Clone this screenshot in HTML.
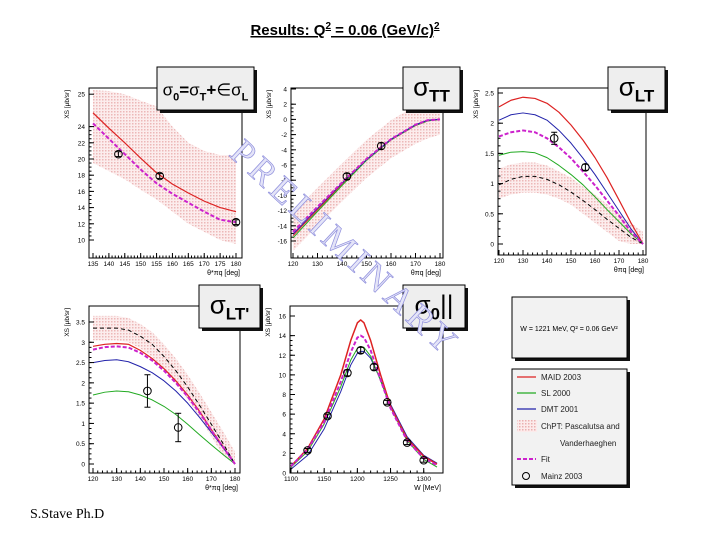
<!DOCTYPE html>
<html><head><meta charset="utf-8"><style>
body{margin:0;background:#fff;width:720px;height:540px;overflow:hidden;position:relative;font-family:"Liberation Sans",Arial,sans-serif}
svg{position:absolute;left:0;top:0}
</style></head><body>
<svg id="s" width="720" height="540" viewBox="0 0 720 540">
<defs>
<pattern id="dots" width="3" height="3" patternUnits="userSpaceOnUse"><rect width="3" height="3" fill="#fcebeb"/><rect x="0" y="0" width="1.5" height="1.5" fill="#eab0b0"/></pattern>
</defs>
<text x="345" y="35" text-anchor="middle" font-size="15" font-weight="bold" text-decoration="underline" fill="#000">Results:  Q<tspan font-size="10" dy="-6">2</tspan><tspan dy="6"> = 0.06 (GeV/c)</tspan><tspan font-size="10" dy="-6">2</tspan></text>
<text x="30" y="518" font-family="Liberation Serif,serif" font-size="14" fill="#000">S.Stave  Ph.D</text>
<g id="panels"></g>
<g>
<rect x="515" y="300" width="115" height="61" fill="#111"/>
<rect x="512" y="297" width="115" height="61" fill="#f2f2f2" stroke="#000"/>
<text x="569" y="331" text-anchor="middle" font-size="7" fill="#000">W = 1221 MeV, Q² = 0.06 GeV²</text>
</g>
<g>
<rect x="515" y="372" width="115" height="116" fill="#111"/>
<rect x="512" y="369" width="115" height="116" fill="#f2f2f2" stroke="#000"/>
<line x1="517" y1="377" x2="536" y2="377" stroke="#d22" stroke-width="1.2"/><text x="541" y="380" font-size="8" fill="#222">MAID 2003</text>
<line x1="517" y1="393" x2="536" y2="393" stroke="#2a2" stroke-width="1.2"/><text x="541" y="396" font-size="8" fill="#222">SL 2000</text>
<line x1="517" y1="409" x2="536" y2="409" stroke="#22a" stroke-width="1.2"/><text x="541" y="412" font-size="8" fill="#222">DMT 2001</text>
<rect x="517" y="420" width="20" height="12" fill="url(#dots)"/><text x="541" y="429" font-size="8" fill="#222">ChPT: Pascalutsa and</text>
<text x="560" y="446" font-size="8" fill="#222">Vanderhaeghen</text>
<line x1="517" y1="459" x2="536" y2="459" stroke="#c2c" stroke-width="2" stroke-dasharray="4,2"/><text x="541" y="462" font-size="8" fill="#222">Fit</text>
<circle cx="526" cy="476" r="3.5" fill="none" stroke="#000"/><text x="541" y="479" font-size="8" fill="#222">Mainz 2003</text>
</g>
<text x="0" y="0" transform="translate(228,155) rotate(43)" font-family="Liberation Serif,serif" font-size="36" fill="#e4e4f8" stroke="#8f8fdc" stroke-width="0.7" letter-spacing="5">PRELIMINARY</text>
</svg>
<script>
// ---- Panel 1: sigma0 vs theta ----
const p1X = [135,140,145,150,155,160,165,170,175,180];
const p1Maid = [25.7,23.8,22,20.1,18.3,16.9,15.8,14.8,14,13.5];
const p1Fit = [24.4,22.5,20.6,18.7,17,15.7,14.6,13.5,12.5,12.2];
const p1BandHi = [28.5,28.4,28,27.2,26.5,24,22,21,20.5,20.5];
const p1BandLo = [19.5,18.5,17.5,16.2,15,13.5,12,11,10,9.5];
const p1DataX = [143,156,180];
const p1DataY = [20.6,17.9,12.2];
const p1DataE = [0.3,0.3,0.3];
const p1YTicks = [10,12,14,16,18,20,22,24,28];
const p1YLabels = ["10","12","14","16","18","20","22","24","25"];
const p1XTicks = [135,140,145,150,155,160,165,170,175,180];
// ---- Panel 2: sigmaTT ----
const p2X = [120,130,140,150,160,170,175,180];
const p2Fit = [-14.8,-11.5,-8.3,-5.2,-2.6,-0.7,-0.1,0];
const p2Maid = [-15.3,-11.9,-8.5,-5.3,-2.7,-0.8,-0.2,0];
const p2SL = [-15.6,-12.1,-8.7,-5.4,-2.7,-0.8,-0.2,0];
const p2DMT = [-15.1,-11.7,-8.4,-5.3,-2.6,-0.7,-0.1,0];
const p2BandHi = [-12.3,-9,-5.8,-2.7,-0.1,1.8,2,2];
const p2BandLo = [-17.3,-14,-10.8,-7.7,-5.1,-3.2,-2.5,-2];
const p2DataX = [142,156];
const p2DataY = [-7.5,-3.5];
const p2DataE = [0.4,0.4];
const p2YTicks = [-16,-14,-12,-10,-8,-6,-4,-2,0,2,4];
const p2XTicks = [120,130,140,150,160,170,180];
// ---- Panel 3: sigmaLT ----
const p3X = [120,125,130,135,140,145,150,155,160,165,170,175,180];
const p3Maid = [2.27,2.38,2.43,2.41,2.33,2.18,1.97,1.72,1.43,1.1,0.73,0.35,0];
const p3DMT = [2.05,2.14,2.17,2.14,2.05,1.88,1.67,1.42,1.15,0.85,0.55,0.25,0];
const p3Fit = [1.78,1.85,1.88,1.85,1.75,1.6,1.42,1.2,0.97,0.72,0.47,0.2,0];
const p3SL = [1.47,1.52,1.53,1.51,1.43,1.3,1.15,0.98,0.78,0.57,0.37,0.17,0];
const p3ChPT = [0.98,1.07,1.12,1.12,1.07,0.98,0.86,0.72,0.57,0.41,0.26,0.11,0];
const p3BandHi = [1.25,1.32,1.35,1.35,1.3,1.2,1.1,0.95,0.82,0.66,0.5,0.35,0.2];
const p3BandLo = [0.75,0.82,0.85,0.85,0.82,0.75,0.65,0.5,0.35,0.2,0.05,0,0];
const p3DataX = [143,156];
const p3DataY = [1.75,1.27];
const p3DataE = [0.1,0.05];
const p3YTicks = [0,0.5,1,1.5,2,2.5];
const p3XTicks = [120,130,140,150,160,170,180];
// ---- Panel 4: sigmaLT' ----
const p4X = [120,125,130,135,140,145,150,155,160,165,170,175,180];
const p4Maid = [2.9,2.95,2.97,2.95,2.8,2.6,2.35,2.05,1.7,1.3,0.85,0.42,0];
const p4Fit = [2.82,2.88,2.9,2.87,2.74,2.55,2.3,2,1.66,1.27,0.83,0.41,0];
const p4DMT = [2.5,2.55,2.57,2.52,2.4,2.25,2.05,1.8,1.5,1.15,0.78,0.4,0];
const p4SL = [1.7,1.77,1.8,1.78,1.7,1.58,1.42,1.22,0.98,0.72,0.47,0.23,0];
const p4ChPT = [3.35,3.35,3.35,3.3,3.15,2.95,2.65,2.3,1.9,1.45,0.98,0.5,0];
const p4BandHi = [3.65,3.65,3.65,3.6,3.45,3.25,2.95,2.6,2.2,1.75,1.28,0.8,0.3];
const p4BandLo = [3.05,3.05,3.05,3,2.85,2.65,2.35,2,1.6,1.15,0.68,0.2,0];
const p4DataX = [143,156];
const p4DataY = [1.8,0.9];
const p4DataE = [0.4,0.35];
const p4YTicks = [0,0.5,1,1.5,2,2.5,3,3.5];
const p4XTicks = [120,130,140,150,160,170,180];
// ---- Panel 5: sigma0 vs W ----
const p5X = [1100,1125,1150,1175,1190,1200,1205,1210,1220,1235,1250,1275,1300,1320];
const p5Maid = [0.7,2.5,5.5,10,13.5,15.3,15.6,15.3,13.5,10,6.8,3.5,1.7,0.9];
const p5Fit = [0.7,2.4,5.2,9.3,12.3,13.8,14,13.8,12.5,9.5,6.6,3.3,1.5,0.8];
const p5SL = [0.6,2.2,5,8.8,11.5,12.7,12.9,12.8,11.9,9.4,6.7,3.3,1.4,0.6];
const p5DMT = [0.4,1.8,4.5,8.3,11,12.2,12.4,12.4,11.7,9.5,7,3.7,1.8,1];
const p5DataX = [1125,1155,1185,1205,1225,1245,1275,1300];
const p5DataY = [2.3,5.8,10.2,12.5,10.8,7.2,3.1,1.3];
const p5DataE = [0.2,0.2,0.3,0.3,0.3,0.2,0.2,0.2];
const p5YTicks = [0,2,4,6,8,10,12,14,16];
const p5XTicks = [1100,1150,1200,1250,1300];

const NS = "http://www.w3.org/2000/svg";
const root = document.getElementById('panels');
function mk(tag, attrs, parent){const e=document.createElementNS(NS,tag);for(const k in attrs)e.setAttribute(k,attrs[k]);(parent||root).appendChild(e);return e;}

function panel(c){
  const g = mk('g',{});
  
  
  const sx = v => c.px0 + (v - c.x0) / (c.x1 - c.x0) * (c.px1 - c.px0);
  const sy = v => c.py0 - (v - c.y0) / (c.y1 - c.y0) * (c.py0 - c.py1);
  if (c.band){
    let d = c.bx.map((x,i)=>(i?'L':'M')+sx(x)+','+sy(c.band[0][i])).join('');
    for(let i=c.bx.length-1;i>=0;i--) d+='L'+sx(c.bx[i])+','+sy(c.band[1][i]);
    const b = mk('path',{d:d+'Z',fill:'url(#dots)',opacity:'0.9'},g);
    
    
  }
  mk('rect',{x:c.L,y:c.T,width:c.R-c.L,height:c.B-c.T,fill:'none',stroke:'#000','stroke-width':1},g);
  c.series.forEach(s=>{
    const p = mk('polyline',{points:c.sxs.map((x,i)=>sx(x)+','+sy(s.v[i])).join(' '),fill:'none',stroke:s.c,'stroke-width':s.w||1,'stroke-dasharray':s.d||'none','stroke-linejoin':'round'},g);
    
    
  });
  c.yt.forEach((v,i)=>{
    mk('line',{x1:c.L,x2:c.L+5,y1:sy(v),y2:sy(v),stroke:'#000'},g);
    const t = mk('text',{x:c.L-4,y:sy(v)+2.5,'text-anchor':'end','font-size':6.5,fill:'#000'},g);
    t.textContent = c.yl ? c.yl[i] : String(v);
    
    
  });
  const dyt=(c.yt[1]-c.yt[0])/4;
  for(let v=c.yt[0]; v<=c.yt[c.yt.length-2]+1e-9; v+=dyt) mk('line',{x1:c.L,x2:c.L+2.5,y1:sy(v),y2:sy(v),stroke:'#000'},g);
  c.xt.forEach(v=>{
    mk('line',{x1:sx(v),x2:sx(v),y1:c.B,y2:c.B-5,stroke:'#000'},g);
    const t = mk('text',{x:sx(v),y:c.B+8,'text-anchor':'middle','font-size':6.5,fill:'#000'},g);
    t.textContent = String(v);
    
    
  });
  const dx=(c.xt[1]-c.xt[0])/5;
  for(let v=c.xt[0]; v<=c.xt[c.xt.length-1]+1e-9; v+=dx) mk('line',{x1:sx(v),x2:sx(v),y1:c.B,y2:c.B-2.5,stroke:'#000'},g);
  const xa = mk('text',{x:c.R-2,y:c.B+17,'text-anchor':'end','font-size':7,fill:'#000'},g);
  xa.textContent = c.xtitle;
  
  
  const ya = mk('text',{transform:'translate('+(c.L-20)+','+(c.T+2)+') rotate(-90)','text-anchor':'end','font-size':6.5,fill:'#000'},g);
  ya.textContent = 'XS [μb/sr]';
  
  
  c.dx.forEach((x,i)=>{
    const X=sx(x),Y=sy(c.dy[i]);
    mk('line',{x1:X,x2:X,y1:sy(c.dy[i]+c.de[i]),y2:sy(c.dy[i]-c.de[i]),stroke:'#000'},g);
    mk('line',{x1:X-3,x2:X+3,y1:sy(c.dy[i]+c.de[i]),y2:sy(c.dy[i]+c.de[i]),stroke:'#000'},g);
    mk('line',{x1:X-3,x2:X+3,y1:sy(c.dy[i]-c.de[i]),y2:sy(c.dy[i]-c.de[i]),stroke:'#000'},g);
    const ci = mk('circle',{cx:X,cy:Y,r:3.8,fill:'none',stroke:'#000','stroke-width':1},g);
    
    
  });
  const tb = mk('g',{},g);
  
  
  mk('rect',{x:c.tb[0]+3,y:c.tb[1]+3,width:c.tb[2],height:c.tb[3],fill:'#111'},tb);
  mk('rect',{x:c.tb[0],y:c.tb[1],width:c.tb[2],height:c.tb[3],fill:'#eee',stroke:'#000'},tb);
  const t = mk('text',{x:c.tb[0]+c.tb[2]/2,y:c.tb[1]+c.tb[3]*0.66,'text-anchor':'middle','font-size':c.tfs,fill:'#000'},tb);
  t.innerHTML = c.title;
}
const RED='#d22',GRN='#2a2',BLU='#22a',MAG='#c2c',BLK='#000';
panel({name:'sigma0-theta-panel',L:89,R:242,T:88,B:258,x0:135,x1:180,px0:93,px1:236,y0:10,y1:24,py0:240,py1:126.6,
 sxs:p1X,bx:p1X,band:[p1BandHi,p1BandLo],
 series:[{n:'maid-line',v:p1Maid,c:RED,w:1.2},{n:'fit-line',v:p1Fit,c:MAG,w:2,d:'4,2'}],
 dx:p1DataX,dy:p1DataY,de:p1DataE,yt:p1YTicks,yl:p1YLabels,xt:p1XTicks,xtitle:'θ*πq [deg]',
 tb:[157,67,97,43],tfs:17,title:'σ<tspan font-size="11" font-weight="bold" dy="5">0</tspan><tspan dy="-5" font-weight="bold">=</tspan>σ<tspan font-size="11" font-weight="bold" dy="5">T</tspan><tspan dy="-5" font-weight="bold">+</tspan>∈σ<tspan font-size="11" font-weight="bold" dy="5">L</tspan>'});
panel({name:'sigma-tt-panel',L:291,R:443,T:88,B:258,x0:120,x1:180,px0:293,px1:440,y0:-16,y1:4,py0:241,py1:89,
 sxs:p2X,bx:p2X,band:[p2BandHi,p2BandLo],
 series:[{n:'maid-line',v:p2Maid,c:RED},{n:'sl-line',v:p2SL,c:GRN},{n:'dmt-line',v:p2DMT,c:BLU},{n:'fit-line',v:p2Fit,c:MAG,w:2,d:'4,2'}],
 dx:p2DataX,dy:p2DataY,de:p2DataE,yt:p2YTicks,xt:p2XTicks,xtitle:'θπq [deg]',
 tb:[403,67,57,43],tfs:26,title:'σ<tspan font-size="17" font-weight="bold" dy="6">TT</tspan>'});
panel({name:'sigma-lt-panel',L:498,R:646,T:88,B:255,x0:120,x1:180,px0:499,px1:643,y0:0,y1:2.5,py0:244,py1:93,
 sxs:p3X,bx:p3X,band:[p3BandHi,p3BandLo],
 series:[{n:'maid-line',v:p3Maid,c:RED,w:1.2},{n:'dmt-line',v:p3DMT,c:BLU},{n:'sl-line',v:p3SL,c:GRN},{n:'chpt-line',v:p3ChPT,c:BLK,d:'4,3'},{n:'fit-line',v:p3Fit,c:MAG,w:2,d:'4,2'}],
 dx:p3DataX,dy:p3DataY,de:p3DataE,yt:p3YTicks,xt:p3XTicks,xtitle:'θπq [deg]',
 tb:[608,67,57,43],tfs:26,title:'σ<tspan font-size="17" font-weight="bold" dy="6">LT</tspan>'});
panel({name:'sigma-ltprime-panel',L:89,R:240,T:306,B:473,x0:120,x1:180,px0:93,px1:235,y0:0,y1:3.5,py0:464,py1:322,
 sxs:p4X,bx:p4X,band:[p4BandHi,p4BandLo],
 series:[{n:'maid-line',v:p4Maid,c:RED,w:1.2},{n:'dmt-line',v:p4DMT,c:BLU},{n:'sl-line',v:p4SL,c:GRN},{n:'chpt-line',v:p4ChPT,c:BLK,d:'4,3'},{n:'fit-line',v:p4Fit,c:MAG,w:2,d:'4,2'}],
 dx:p4DataX,dy:p4DataY,de:p4DataE,yt:p4YTicks,xt:p4XTicks,xtitle:'θ*πq [deg]',
 tb:[199,285,61,43],tfs:26,title:'σ<tspan font-size="17" font-weight="bold" dy="6">LT\'</tspan>'});
panel({name:'sigma0-w-panel',L:290,R:443,T:306,B:473,x0:1100,x1:1320,px0:291,px1:437,y0:0,y1:16,py0:473,py1:316,
 sxs:p5X,bx:null,band:null,
 series:[{n:'dmt-line',v:p5DMT,c:BLU},{n:'sl-line',v:p5SL,c:GRN},{n:'maid-line',v:p5Maid,c:RED,w:1.5},{n:'fit-line',v:p5Fit,c:MAG,w:2,d:'4,2'}],
 dx:p5DataX,dy:p5DataY,de:p5DataE,yt:p5YTicks,xt:p5XTicks,xtitle:'W [MeV]',
 tb:[403,285,62,43],tfs:26,title:'σ<tspan font-size="17" font-weight="bold" dy="6">0</tspan><tspan dy="-6">||</tspan>'});
</script>
</body></html>
